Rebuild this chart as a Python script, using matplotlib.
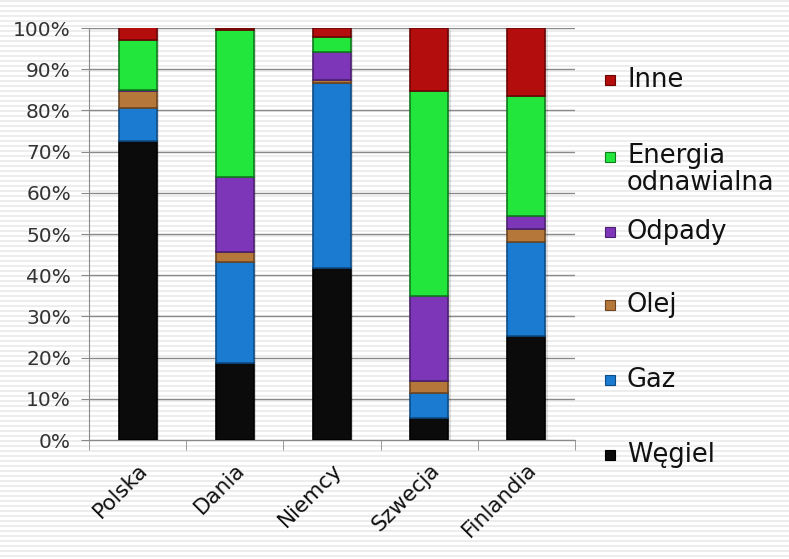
import numpy as np
import matplotlib.pyplot as plt
from matplotlib.patches import Rectangle

# share of fuels in power generation (%)
countries = ["Polska", "Dania", "Niemcy", "Szwecja", "Finlandia"]
wegiel = [72.6, 18.6, 41.7, 5.3, 25.2]
gaz = [7.9, 24.7, 45.0, 6.2, 22.9]
olej = [4.3, 2.3, 0.8, 2.8, 3.0]
odpady = [0.1, 18.3, 6.7, 20.7, 3.3]
energia = [12.1, 35.6, 3.7, 49.8, 29.1]
inne = [3.3, 0.5, 2.1, 15.2, 16.5]

series = [
    ("Węgiel", wegiel, "#0b0b0b", "#000000"),
    ("Gaz", gaz, "#1b7bd0", "#0d4c86"),
    ("Olej", olej, "#b5773a", "#6e4520"),
    ("Odpady", odpady, "#7d36b8", "#4a1f70"),
    ("Energia\nodnawialna", energia, "#22e63c", "#0f7a1d"),
    ("Inne", inne, "#b30d0d", "#6b0505"),
]

W, H = 789, 559
fig = plt.figure(figsize=(W / 100, H / 100), dpi=100)

# lined-paper background
bg = fig.add_axes([0, 0, 1, 1], zorder=-1)
stripes = np.ones((H, W, 3))
for r in range(H):
    if r % 5 in (0, 1):
        stripes[r] = 0.93
bg.imshow(stripes, aspect="auto", interpolation="nearest")
bg.axis("off")

ax = fig.add_axes([89 / W, 1 - 440 / H, (575 - 89) / W, (440 - 28) / H])
ax.set_facecolor("none")

x = np.arange(len(countries))
bottom = np.zeros(len(countries))
for name, vals, col, edge in series:
    ax.bar(x + 0.025, vals, 0.39, bottom=bottom - 0.6, color="#000000",
           alpha=0.12, zorder=2, linewidth=0)
    ax.bar(x, vals, 0.39, bottom=bottom, color=col, edgecolor=edge,
           linewidth=1.2, zorder=3)
    bottom += np.array(vals)

ax.set_ylim(0, 100)
ax.set_xlim(-0.5, len(countries) - 0.5)
ax.set_yticks(range(0, 101, 10))
ax.set_yticklabels([f"{v}%" for v in range(0, 101, 10)], fontsize=14.5, color="#333333")
ax.yaxis.grid(True, color="#8a8a8a", linewidth=1)
ax.set_axisbelow(True)

ax.set_xticks(x)
ax.set_xticklabels(countries, rotation=45, ha="right", rotation_mode="anchor",
                   fontsize=15.5, color="#111111")
ax.set_xticks(np.arange(-0.5, len(countries)), minor=True)
ax.tick_params(axis="x", which="major", length=0, pad=14)
ax.tick_params(axis="x", which="minor", length=7, color="#8a8a8a")
ax.tick_params(axis="y", length=6, color="#8a8a8a", pad=7)

for s in ["top", "right"]:
    ax.spines[s].set_visible(False)
ax.spines["left"].set_color("#8a8a8a")
ax.spines["bottom"].set_color("#8a8a8a")

# legend, top entry first
ys = [455, 380, 305, 232, 157, 80]
for (name, vals, col, edge), yp in zip(series, ys):
    fig.patches.append(Rectangle((605 / W, 1 - (yp + 5) / H), 10 / W, 10 / H,
                                 transform=fig.transFigure, facecolor=col,
                                 edgecolor=edge, linewidth=0.8))
    if "\n" in name:
        fig.text(627 / W, 1 - (yp - 14) / H, name, fontsize=18.5, va="top",
                 color="#111111", linespacing=1.05)
    else:
        fig.text(627 / W, 1 - yp / H, name, fontsize=18.5, va="center",
                 color="#111111")

fig.savefig("out.png", dpi=100)
